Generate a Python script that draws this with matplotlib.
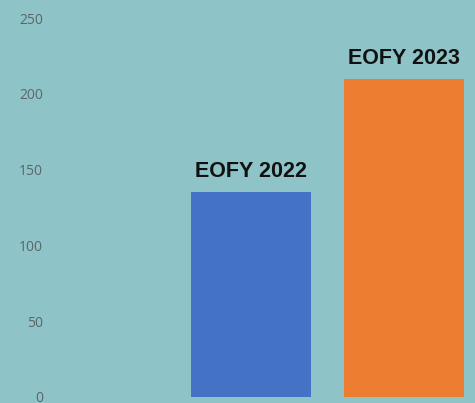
import matplotlib.pyplot as plt

categories = ['EOFY 2022', 'EOFY 2023']
values = [135, 210]
colors = ['#4472C4', '#ED7D31']
yticks = [0, 50, 100, 150, 200, 250]

bg = '#8EC3C8'

fig = plt.figure(figsize=(4.75, 4.03), dpi=100, facecolor=bg)
# axes spans from x=55px to the right edge, full height
ax = fig.add_axes([55 / 475, 0, 1 - 55 / 475, 1])
ax.set_facecolor(bg)

x = range(len(categories))
bars = ax.bar(x, values, width=0.785, color=colors)

for b, lab in zip(bars, categories):
    ax.text(b.get_x() + b.get_width() / 2, b.get_height() + 6.5, lab,
            ha='center', va='bottom', fontsize=15.5, fontweight='bold',
            family='Liberation Sans', color='#111111')

ax.set_ylim(-6 / 1.516, 250 + 18 / 1.516)
ax.set_xlim(-1.281, 1.464)
ax.set_yticks(yticks)
ax.set_xticks([])
ax.tick_params(axis='y', length=0, pad=8.6, labelsize=10, labelcolor='#5c6668')
for lbl in ax.get_yticklabels():
    lbl.set_family('Open Sans')
for s in ax.spines.values():
    s.set_visible(False)

fig.savefig('out.png', dpi=100, facecolor=bg)
